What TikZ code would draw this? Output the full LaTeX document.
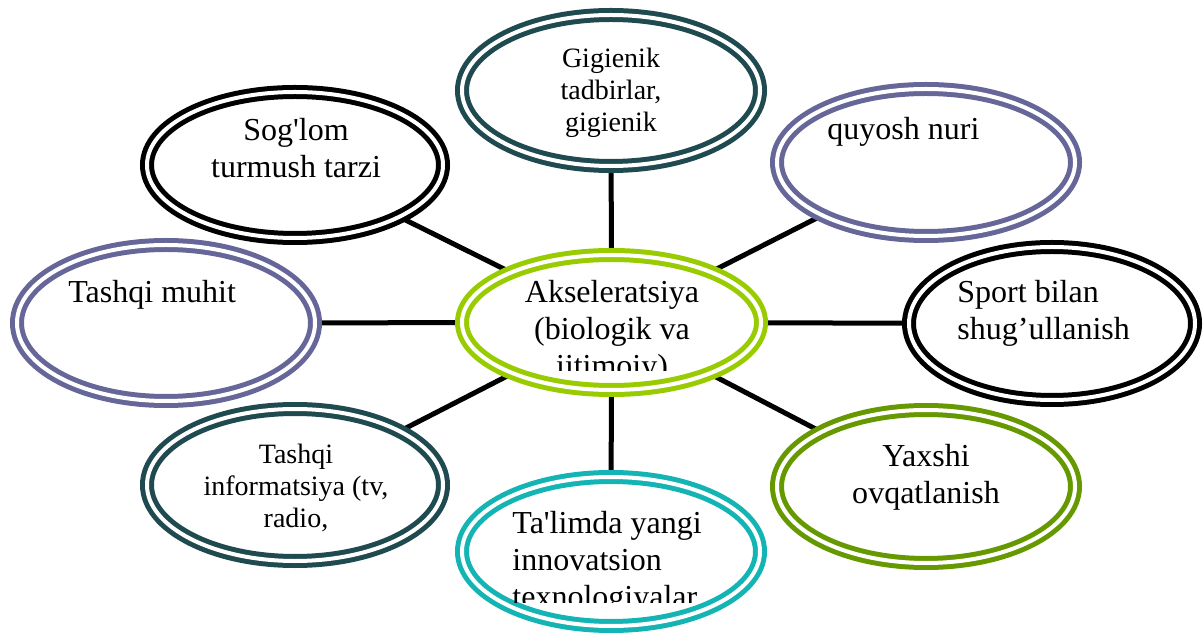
\documentclass[tikz,border=0pt]{standalone}
\usepackage{fontspec}
\setmainfont{Liberation Serif}
\usetikzlibrary{shapes.geometric,backgrounds}
\definecolor{limeg}{HTML}{99CC00}
\definecolor{darkteal}{HTML}{1F4A4F}
\definecolor{slate}{HTML}{666699}
\definecolor{oliveg}{HTML}{669900}
\definecolor{turq}{HTML}{14B4B4}
\tikzset{
  ring/.style={ellipse, draw=#1, double=white, line width=2.5pt, double distance=2pt, inner sep=0pt},
  txt/.style={inner sep=0pt, align=center, anchor=base, font=\fontsize{16}{18.5}\selectfont},
  smalltxt/.style={txt, font=\fontsize{14}{16}\selectfont},
  lefttxt/.style={txt, align=left, anchor=base west},
  link/.style={line width=2.5pt},
}
\begin{document}
\begin{tikzpicture}[x=0.5pt,y=-0.5pt]
\useasboundingbox (0,0) rectangle (1203,635);
% rings
\node[ring=limeg, minimum width=149.5pt, minimum height=67.5pt] (akse) at (611.5,322.5) {};
\node[ring=darkteal, minimum width=149pt, minimum height=75.5pt] (gigi) at (611,90.5) {};
\node[ring=slate, minimum width=149pt, minimum height=73.5pt] (quyosh) at (926,162.5) {};
\node[ring=black, minimum width=143pt, minimum height=76.5pt] (sport) at (1052,323.5) {};
\node[ring=oliveg, minimum width=149pt, minimum height=76.5pt] (yaxshi) at (926,486.5) {};
\node[ring=turq, minimum width=149pt, minimum height=74.5pt] (talim) at (611,551.5) {};
\node[ring=darkteal, minimum width=148pt, minimum height=76pt] (info) at (295,485) {};
\node[ring=slate, minimum width=149pt, minimum height=78pt] (muhit) at (166,323) {};
\node[ring=black, minimum width=148pt, minimum height=73pt] (soglom) at (295,165) {};
% links
\begin{scope}[on background layer]
\foreach \n in {gigi,quyosh,sport,yaxshi,talim,info,muhit,soglom}
  \draw[link] (akse) -- (\n);
\end{scope}
% texts (base = last line)
\begin{scope}
\clip (455,250) rectangle (770,371);
\node[txt] (akse-t) at (612,377) {Akseleratsiya\\(biologik va\\ijtimoiy)};
\end{scope}
\node[smalltxt] (gigi-t) at (611,132) {Gigienik\\tadbirlar,\\gigienik};
\node[lefttxt] (quyosh-t) at (827,140) {quyosh nuri};
\node[lefttxt] (sport-t) at (957,340) {Sport bilan\\shug’ullanish};
\node[txt] (yaxshi-t) at (926,503) {Yaxshi\\ovqatlanish};
\begin{scope}
\clip (455,470) rectangle (770,602);
\node[lefttxt] (talim-t) at (512,607) {Ta\textquotesingle limda yangi\\innovatsion\\texnologiyalar};
\end{scope}
\node[smalltxt] (info-t) at (296,527) {Tashqi\\informatsiya (tv,\\radio,};
\node[lefttxt] (muhit-t) at (68,303) {Tashqi muhit};
\node[txt] (soglom-t) at (296,178) {Sog\textquotesingle lom\\turmush tarzi};
\end{tikzpicture}
\end{document}
